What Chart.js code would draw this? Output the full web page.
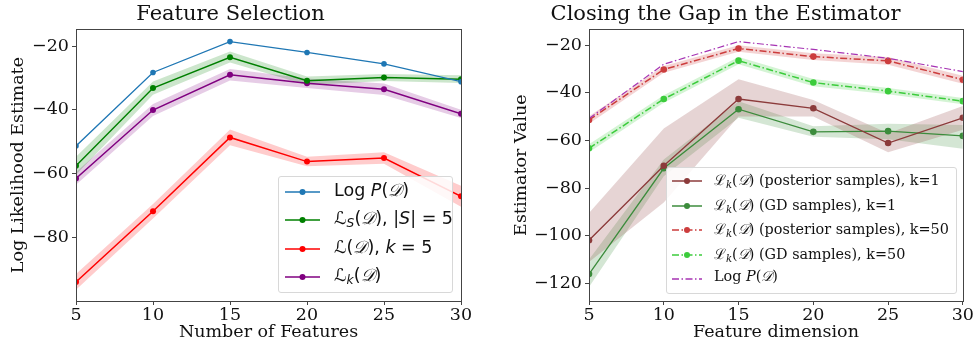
<!DOCTYPE html>
<html>
<head>
<meta charset="utf-8">
<script src="https://cdn.jsdelivr.net/npm/chart.js@4.4.1/dist/chart.umd.min.js"></script>
<style>
    body { margin: 0; background: #fff; }
    .panel { position: absolute; top: 0; width: 487px; height: 343px; }
    .legend {
        position: absolute; background: rgba(255,255,255,0.85);
        border: 1px solid #d8d8d8; border-radius: 3px; box-sizing: border-box;
    }
    .legend .row { position: absolute; left: 0; white-space: nowrap; }
    .legend svg { position: absolute; top: 0; }
    .legend span { position: absolute; color: #111; white-space: nowrap; }
    .sans { font-family: "DejaVu Sans", sans-serif; font-size: 17.5px; }
    .serif { font-family: "DejaVu Serif", serif; font-size: 14.4px; }
    i { font-style: italic; }
    sub { font-size: 0.7em; font-style: italic; vertical-align: -0.25em; }
</style>
</head>
<body>
<div class="panel" style="left:0"><canvas id="left" width="487" height="343"></canvas></div>
<div class="panel" style="left:487px"><canvas id="right" width="487" height="343"></canvas></div>

<div class="legend sans" id="legLeft" style="left:278px; top:176px; width:175px; height:117px"></div>
<div class="legend serif" id="legRight" style="left:666px; top:167px; width:291px; height:127px"></div>

<script>
// shared x positions
const features = [5, 10, 15, 20, 25, 30];
const xTicks = [5, 10, 15, 20, 25, 30];

// left panel: Feature Selection
const leftYTicks = [-20, -40, -60, -80];
const logP = [-51.4, -28.3, -18.6, -22.0, -25.6, -31.2];
const lossS = [-57.6, -33.2, -23.5, -30.9, -29.9, -30.4];
const lossSLow = [-60.4, -35.3, -25.2, -32.2, -31.0, -31.6];
const lossSHigh = [-54.8, -31.1, -21.7, -29.6, -28.8, -29.2];
const lossK5 = [-94.1, -71.9, -48.7, -56.3, -55.2, -67.2];
const lossK5Low = [-96.6, -74.2, -51.2, -57.8, -57.0, -70.5];
const lossK5High = [-91.6, -69.6, -46.2, -54.8, -53.4, -63.9];
const lossK = [-61.6, -40.1, -29.0, -31.7, -33.6, -41.3];
const lossKLow = [-63.6, -42.0, -30.8, -33.2, -35.4, -42.6];
const lossKHigh = [-59.6, -38.2, -27.2, -30.2, -31.8, -40.0];

// right panel: Closing the Gap in the Estimator
const rightYTicks = [-20, -40, -60, -80, -100, -120];
const postK1 = [-101.9, -70.6, -42.6, -46.5, -61.1, -50.5];
const postK1Low = [-111.0, -86.0, -50.0, -50.0, -65.0, -55.5];
const postK1High = [-90.5, -55.0, -34.3, -43.0, -57.0, -45.5];
const gdK1 = [-116.1, -71.7, -46.9, -56.4, -56.1, -58.1];
const gdK1Low = [-121.5, -75.0, -50.5, -58.5, -59.5, -63.5];
const gdK1High = [-110.0, -68.0, -43.5, -54.0, -53.0, -53.5];
const postK50 = [-51.4, -30.2, -21.4, -24.8, -26.6, -34.5];
const postK50Low = [-53.0, -31.6, -22.8, -26.2, -28.2, -36.2];
const postK50High = [-49.8, -28.8, -20.0, -23.4, -25.0, -32.8];
const gdK50 = [-63.3, -42.6, -26.5, -35.7, -39.3, -43.5];
const gdK50Low = [-65.0, -44.2, -28.0, -37.2, -40.6, -44.8];
const gdK50High = [-61.6, -41.0, -25.0, -34.2, -38.0, -42.2];
const logP2 = [-50.8, -28.0, -18.5, -21.8, -25.5, -31.1];

const pts = ys => ys.map((y, i) => ({ x: features[i], y: y }));
const minus = v => String(v).replace('-', '\u2212');

function line(data, color, opts = {}) {
    return Object.assign({
        data: pts(data),
        borderColor: color,
        backgroundColor: color,
        borderWidth: 1.5,
        pointRadius: 3,
        pointHoverRadius: 3,
        pointBorderWidth: 0,
        fill: false
    }, opts);
}

// lower edge (invisible) + upper edge filled to it
function band(low, high, fillColor) {
    return [
        { data: pts(low), borderWidth: 0, pointRadius: 0, fill: false, borderColor: 'transparent' },
        { data: pts(high), borderWidth: 0, pointRadius: 0, fill: '-1', borderColor: 'transparent', backgroundColor: fillColor }
    ];
}

const boxPlugin = {
    id: 'box',
    afterDraw(chart) {
        const a = chart.chartArea;
        const ctx = chart.ctx;
        ctx.save();
        ctx.strokeStyle = '#444';
        ctx.lineWidth = 1;
        ctx.strokeRect(Math.round(a.left) + 0.5, Math.round(a.top) + 0.5,
            Math.round(a.right - a.left), Math.round(a.bottom - a.top));
        ctx.restore();
    }
};

function makeOptions(title, xLabel, yLabel, yMin, yMax, yTicks, yWidth, padRight, yTitlePad) {
    const font = { family: 'DejaVu Serif', size: 17.5 };
    return {
        responsive: false,
        devicePixelRatio: 1,
        animation: false,
        layout: { padding: { left: 0, right: padRight, top: 0, bottom: 0 } },
        plugins: {
            legend: { display: false },
            tooltip: { enabled: false },
            title: {
                display: true,
                text: title,
                color: '#111',
                font: { family: 'DejaVu Serif', size: 21, weight: 'normal', lineHeight: 1.2 },
                padding: { top: 2, bottom: 2 }
            }
        },
        scales: {
            x: {
                type: 'linear',
                min: 5,
                max: 30,
                afterBuildTicks: s => { s.ticks = xTicks.map(v => ({ value: v })); },
                afterFit: s => { s.height = 42; },
                grid: { drawOnChartArea: false, drawTicks: true, tickLength: 4, color: '#444' },
                border: { display: false },
                ticks: { color: '#111', font: font, padding: 0, maxRotation: 0 },
                title: { display: true, text: xLabel, color: '#111', font: font, padding: { top: -4, bottom: 0 } }
            },
            y: {
                type: 'linear',
                min: yMin,
                max: yMax,
                afterBuildTicks: s => { s.ticks = yTicks.map(v => ({ value: v })); },
                afterFit: s => { s.width = yWidth; },
                grid: { drawOnChartArea: false, drawTicks: true, tickLength: 4, color: '#444' },
                border: { display: false },
                ticks: { color: '#111', font: font, padding: 3, callback: v => minus(v) },
                title: { display: true, text: yLabel, color: '#111', font: font, padding: { top: yTitlePad, bottom: 0 } }
            }
        }
    };
}

new Chart(document.getElementById('left'), {
    type: 'line',
    data: {
        datasets: [
            line(logP, '#1f77b4', { borderWidth: 1.3, pointRadius: 2.8 }),
            line(lossS, '#008000'),
            line(lossK5, '#ff0000'),
            line(lossK, '#800080'),
            ...band(lossSLow, lossSHigh, 'rgba(0,128,0,0.2)'),
            ...band(lossK5Low, lossK5High, 'rgba(255,0,0,0.2)'),
            ...band(lossKLow, lossKHigh, 'rgba(128,0,128,0.2)')
        ]
    },
    options: makeOptions('Feature Selection', 'Number of Features', 'Log Likelihood Estimate',
        -100.1, -14.7, leftYTicks, 76, 26, 8),
    plugins: [boxPlugin]
});

const dashDot = [7, 2.5, 1.5, 2.5];

new Chart(document.getElementById('right'), {
    type: 'line',
    data: {
        datasets: [
            line(logP2, '#a633b3', { borderWidth: 1.2, pointRadius: 0, borderDash: dashDot }),
            line(postK50, '#cc3d3d', { borderDash: dashDot, pointRadius: 3.3 }),
            line(gdK50, '#3ccc3c', { borderDash: dashDot, pointRadius: 3.3 }),
            line(postK1, '#8c3b3b', { borderWidth: 1.3, pointRadius: 3.3 }),
            line(gdK1, '#3c8c3c', { borderWidth: 1.3, pointRadius: 3.3 }),
            ...band(postK50Low, postK50High, 'rgba(204,61,61,0.22)'),
            ...band(gdK50Low, gdK50High, 'rgba(60,204,60,0.22)'),
            ...band(postK1Low, postK1High, 'rgba(140,59,59,0.22)'),
            ...band(gdK1Low, gdK1High, 'rgba(60,140,60,0.22)')
        ]
    },
    options: makeOptions('Closing the Gap in the Estimator', 'Feature dimension', 'Estimator Value',
        -127.4, -13.3, rightYTicks, 102, 10, 24),
    plugins: [boxPlugin]
});

// legends (html, matplotlib style)
const D = '<span style="font-family:\'DejaVu Serif\',serif;font-style:italic;position:static">&#x1D49F;</span>';
const L = '&#x2112;';
const leftEntries = [
    { color: '#1f77b4', dash: '', marker: true, html: 'Log <i>P</i>(' + D + ')' },
    { color: '#008000', dash: '', marker: true, html: L + '<sub>S</sub>(' + D + '), |<i>S</i>| = 5' },
    { color: '#ff0000', dash: '', marker: true, html: L + '(' + D + '), <i>k</i> = 5' },
    { color: '#800080', dash: '', marker: true, html: L + '<sub>k</sub>(' + D + ')' }
];
const rightEntries = [
    { color: '#8c3b3b', dash: '', marker: true, html: L + '<sub>k</sub>(' + D + ') (posterior samples), k=1' },
    { color: '#3c8c3c', dash: '', marker: true, html: L + '<sub>k</sub>(' + D + ') (GD samples), k=1' },
    { color: '#cc3d3d', dash: '7 2.5 1.5 2.5', marker: true, html: L + '<sub>k</sub>(' + D + ') (posterior samples), k=50' },
    { color: '#3ccc3c', dash: '7 2.5 1.5 2.5', marker: true, html: L + '<sub>k</sub>(' + D + ') (GD samples), k=50' },
    { color: '#a633b3', dash: '7 2.5 1.5 2.5', marker: false, html: 'Log <i>P</i>(' + D + ')' }
];

function buildLegend(el, entries, firstY, step, sampleX, sampleW, textX, textOff) {
    entries.forEach((e, i) => {
        const y = firstY + i * step;
        const svg = '<svg width="' + (sampleW + 4) + '" height="10" style="left:' + sampleX + 'px;top:' + (y - 5) + 'px">' +
            '<line x1="0" y1="5" x2="' + sampleW + '" y2="5" stroke="' + e.color + '" stroke-width="1.5"' +
            (e.dash ? ' stroke-dasharray="' + e.dash + '"' : '') + '/>' +
            (e.marker ? '<circle cx="' + (sampleW / 2) + '" cy="5" r="3" fill="' + e.color + '"/>' : '') +
            '</svg>';
        const div = document.createElement('div');
        div.innerHTML = svg + '<span style="left:' + textX + 'px;top:' + (y - textOff) + 'px">' + e.html + '</span>';
        while (div.firstChild) el.appendChild(div.firstChild);
    });
}

buildLegend(document.getElementById('legLeft'), leftEntries, 15, 28.3, 6, 35, 55, 12);
buildLegend(document.getElementById('legRight'), rightEntries, 13, 24.6, 5, 30, 47, 11);
</script>
</body>
</html>
